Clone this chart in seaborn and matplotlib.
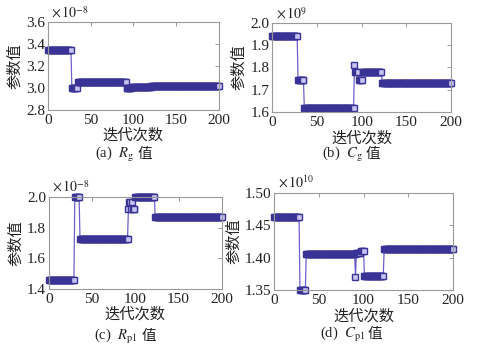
import numpy as np
import pandas as pd
import matplotlib
matplotlib.use("Agg")
import matplotlib.pyplot as plt
import seaborn as sns

# ---- data: piecewise-constant segments (start iteration, value) ----
iters = np.arange(0, 201)

rg_starts = [0, 28, 35, 92, 98, 121]
rg_vals = [3.35, 3.00, 3.05, 3.00, 3.01, 3.02]           # x 1e-8

cg_starts = [0, 29, 36, 92, 93, 97, 101, 123]
cg_vals = [1.94, 1.745, 1.62, 1.81, 1.78, 1.745, 1.78, 1.73]   # x 1e9

rp_starts = [0, 30, 36, 92, 93, 95, 96, 97, 100, 123]
rp_vals = [1.46, 2.00, 1.725, 1.92, 1.97, 1.92, 1.97, 1.92, 2.00, 1.87]  # x 1e-8

cp_starts = [0, 29, 36, 91, 92, 97, 101, 123]
cp_vals = [1.463, 1.35, 1.405, 1.37, 1.407, 1.41, 1.372, 1.413]  # x 1e10

y_ticks_a = [2.8, 3.0, 3.2, 3.4, 3.6]
y_ticks_b = [1.6, 1.7, 1.8, 1.9, 2.0]
y_ticks_c = [1.4, 1.6, 1.8, 2.0]
y_ticks_d = [1.35, 1.40, 1.45, 1.50]
x_ticks = [0, 50, 100, 150, 200]

def expand(starts, vals):
    out = np.empty(len(iters))
    for s, v in zip(starts, vals):
        out[iters >= s] = v
    return out

sns.set_theme(style="white")
plt.rcParams['font.family'] = ['Liberation Serif', 'Noto Sans CJK SC', 'DejaVu Sans']
plt.rcParams['mathtext.fontset'] = 'stix'
plt.rcParams['axes.unicode_minus'] = False

W, H = 479, 358
fig = plt.figure(figsize=(W / 100, H / 100), dpi=100)

panels = [
    dict(starts=rg_starts, vals=rg_vals, ylim=(2.8, 3.6), yt=y_ticks_a, fmt="%.1f",
         rect=[0.100, 0.693, 0.357, 0.245], off=r"$\times\,10^{-8}$",
         cap=r"(a)  $R_{\mathrm{g}}$", cx=120, cy=154),
    dict(starts=cg_starts, vals=cg_vals, ylim=(1.6, 2.0), yt=y_ticks_b, fmt="%.1f",
         rect=[0.568, 0.687, 0.374, 0.249], off=r"$\times\,10^{9}$",
         cap=r"(b)  $C_{\mathrm{g}}$", cx=349, cy=154),
    dict(starts=rp_starts, vals=rp_vals, ylim=(1.4, 2.0), yt=y_ticks_c, fmt="%.1f",
         rect=[0.102, 0.193, 0.361, 0.257], off=r"$\times\,10^{-8}$",
         cap=r"(c)  $R_{\mathrm{p1}}$", cx=124, cy=336),
    dict(starts=cp_starts, vals=cp_vals, ylim=(1.35, 1.50), yt=y_ticks_d, fmt="%.2f",
         rect=[0.572, 0.190, 0.374, 0.271], off=r"$\times\,10^{10}$",
         cap=r"(d)  $C_{\mathrm{p1}}$", cx=351, cy=334),
]

line_c = (0.42, 0.38, 0.80)
edge_c = (0.22, 0.20, 0.58)
face_c = (0.78, 0.77, 0.95)

for p in panels:
    ax = fig.add_axes(p["rect"])
    df = pd.DataFrame({"iter": iters, "val": expand(p["starts"], p["vals"])})
    sns.lineplot(data=df, x="iter", y="val", ax=ax, color=line_c, lw=0.9,
                 marker='s', markersize=4.3, markeredgecolor=edge_c,
                 markerfacecolor=face_c, markeredgewidth=1.0, clip_on=False)
    ax.set_xlim(0, 200)
    ax.set_ylim(*p["ylim"])
    ax.set_xticks(x_ticks)
    ax.set_yticks(p["yt"])
    ax.set_yticklabels([p["fmt"] % t for t in p["yt"]])
    ax.tick_params(direction='in', length=3, width=0.6, labelsize=11, pad=2,
                   top=True, right=True, colors='#888888', labelcolor='#222222')
    ax.tick_params(axis='x', pad=3)
    for s in ax.spines.values():
        s.set_color('#999999')
        s.set_linewidth(0.8)
    ax.set_xlabel("迭代次数", fontsize=11, labelpad=0,
                  family=['Noto Sans CJK SC'], color='#222222')
    ax.set_ylabel("参数值", fontsize=11, labelpad=2,
                  family=['Noto Sans CJK SC'], color='#222222')
    ax.text(0.02, 1.02, p["off"], transform=ax.transAxes, fontsize=10,
            ha='left', va='bottom', color='#222222')
    # caption: math part + Chinese character
    fig.text((p["cx"] + 14) / W, 1 - p["cy"] / H, p["cap"], fontsize=10.5,
             ha='right', va='center', color='#222222')
    fig.text((p["cx"] + 17) / W, 1 - p["cy"] / H, "值", fontsize=10.5,
             ha='left', va='center', color='#222222',
             family=['Noto Sans CJK SC'])

fig.savefig("out.png", dpi=100)
